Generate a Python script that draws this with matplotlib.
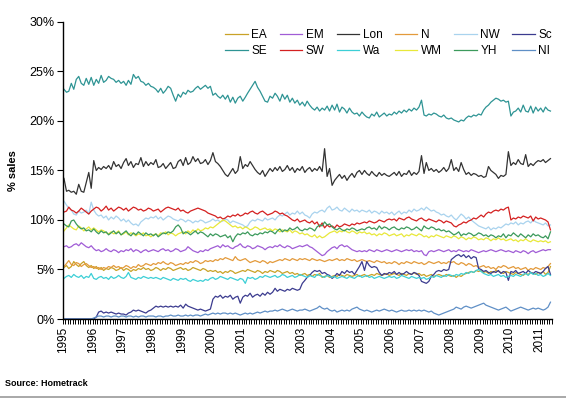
import numpy as np
import pandas as pd
import matplotlib
matplotlib.use("Agg")
import matplotlib.pyplot as plt
import matplotlib.dates as mdates
from matplotlib.ticker import FuncFormatter

plt.rcParams['font.family'] = ['Liberation Sans', 'DejaVu Sans']

# monthly share of sales (%), Jan 1995 - May 2011
SE = [23.2, 22.9, 23.0, 23.8, 23.2, 24.2, 24.5, 23.8, 23.6, 24.3, 23.7, 24.4,
      23.6, 24.2, 23.8, 24.6, 23.9, 24.1, 24.5, 24.3, 24.2, 23.9, 24.1, 23.8,
      24.0, 23.6, 24.1, 23.7, 24.7, 24.3, 24.5, 24.0, 23.9, 23.6, 23.8, 23.5,
      23.4, 23.2, 22.9, 23.3, 22.8, 23.1, 23.5, 23.3, 22.6, 22.0, 22.7, 22.4,
      22.9, 22.7, 23.1, 22.9, 23.0, 23.3, 23.5, 23.2, 23.4, 23.6, 23.3, 23.5,
      22.6, 22.8, 22.5, 22.3, 22.6, 22.2, 22.6, 21.9, 22.4, 21.8, 22.3, 22.5,
      22.0, 22.4, 22.8, 23.2, 23.6, 24.0, 23.4, 23.0, 22.5, 22.0, 21.9, 22.5,
      22.3, 22.8, 22.5, 22.0, 22.7, 22.2, 22.6, 21.9, 22.3, 21.8, 22.1, 21.6,
      21.9, 21.5, 22.0, 21.6, 21.3, 21.1, 21.4, 21.0, 21.3, 21.1, 21.5, 21.0,
      21.6, 21.1, 21.7, 20.9, 21.4, 21.2, 20.8, 21.3, 20.9, 20.7, 20.8, 20.5,
      20.9, 20.6, 20.4, 20.3, 20.7, 20.5, 20.9, 20.4, 20.6, 20.8, 20.5, 20.7,
      20.6, 20.9, 20.7, 21.0, 20.8, 21.1, 20.9, 21.2, 21.0, 21.3, 21.1, 21.4,
      22.1, 20.6, 20.5, 20.7, 20.6, 20.8, 20.7, 20.5, 20.4, 20.6, 20.3, 20.2,
      20.3, 20.1, 20.0, 19.9, 20.1, 20.0, 20.3, 20.5, 20.4, 20.6, 20.5, 20.7,
      20.6, 21.1, 21.4, 21.6, 21.9, 22.1, 22.3, 22.2, 22.0, 22.1, 21.9, 22.0,
      20.5, 20.9, 21.0, 21.3, 20.9, 21.6, 21.0, 20.9, 21.5, 20.8, 21.4, 21.0,
      21.3, 20.9, 21.4, 21.1, 21.0]

Lon = [14.2, 12.9, 13.0, 12.8, 12.9, 12.6, 13.6, 12.9, 12.8, 13.8, 14.8, 13.2,
       16.0, 15.0, 15.3, 15.1, 15.4, 15.2, 15.5, 15.1, 15.9, 15.4, 15.6, 15.2,
       15.8, 16.2, 15.5, 15.9, 15.3, 15.7, 15.6, 16.3, 15.4, 15.9, 15.5, 15.8,
       15.6, 16.1, 15.3, 15.4, 15.7, 15.2, 15.5, 15.8, 15.2, 15.3, 15.9, 16.1,
       15.5, 16.3, 15.6, 15.8, 16.4, 15.9, 16.2, 15.7, 15.8, 16.1, 15.6, 16.0,
       16.8, 15.9, 15.7, 15.4, 15.0, 14.6, 14.4, 14.8, 15.2, 14.7, 15.0, 16.4,
       15.2, 15.6, 15.4, 15.9, 15.5, 15.1, 14.8, 14.6, 15.0, 14.4, 14.8, 15.2,
       14.9, 15.3, 15.0, 15.4, 14.9, 15.1, 15.5, 15.0, 15.3, 14.8, 15.2, 15.0,
       15.4, 14.8, 15.1, 15.3, 14.9, 15.2, 15.0, 15.4, 14.9, 17.2, 14.4, 15.2,
       13.5, 14.0, 14.3, 14.6, 14.2, 14.5, 14.0, 14.4, 14.7, 14.3, 14.8, 15.0,
       14.6, 15.0, 14.7, 14.5, 14.9, 14.6, 14.4, 14.8, 14.5, 14.7, 14.5, 14.4,
       14.6, 14.8, 14.5, 14.9, 14.4, 14.7, 14.6, 15.0, 14.5, 14.8, 14.6, 14.9,
       16.5, 14.7, 15.8, 15.0, 15.2, 14.9, 15.1, 14.8, 15.0, 15.3, 14.9, 15.2,
       16.1, 15.0, 15.3, 14.9, 15.8, 15.1, 14.6, 14.8, 14.5, 14.7, 14.6, 14.4,
       14.5, 14.3, 14.4, 15.4, 15.0, 14.8, 14.6, 14.2, 14.5, 14.4, 14.6, 16.9,
       15.5, 15.8, 15.6, 16.1, 15.7, 15.6, 16.6, 15.4, 15.7, 15.5, 15.8, 16.0,
       15.9, 16.1, 15.8, 16.0, 16.2]

SW = [10.8, 10.9, 11.3, 11.0, 10.9, 10.7, 10.9, 11.2, 11.0, 10.8, 10.6, 10.9,
      11.1, 11.3, 11.2, 10.9, 11.1, 11.4, 11.0, 11.2, 10.9, 11.1, 11.3, 11.2,
      11.0, 11.2, 10.9, 11.1, 11.3, 11.2, 11.0, 11.1, 10.9, 11.0, 11.2, 11.1,
      10.9, 11.0, 11.1, 10.8, 11.0, 11.2, 11.3, 11.2, 11.1, 11.0, 11.2, 10.9,
      11.0, 10.8, 10.7, 10.9, 11.0, 11.1, 11.2, 11.1, 11.0, 10.9, 10.7, 10.6,
      10.5, 10.4, 10.2, 10.3, 10.1, 10.2, 10.4, 10.3, 10.5, 10.4, 10.6, 10.4,
      10.5, 10.7, 10.6, 10.8, 10.9, 10.7, 10.6, 10.8, 10.9, 10.7, 10.5, 10.6,
      10.7, 10.9, 10.8, 10.6, 10.7, 10.5, 10.4, 10.2, 10.0, 9.9, 10.1, 9.8,
      9.9, 10.0, 9.8, 9.7, 9.9, 9.6, 9.8, 9.3, 9.7, 9.2, 9.5, 9.3,
      9.4, 9.2, 9.5, 9.3, 9.4, 9.6, 9.5, 9.4, 9.6, 9.5, 9.7, 9.6,
      9.7, 9.8, 9.7, 9.9, 9.8, 9.7, 9.8, 10.0, 9.9, 9.8, 10.0, 10.1,
      10.0, 10.1, 9.9, 10.2, 10.1, 10.0, 10.2, 10.3, 10.1, 10.0, 9.9, 10.1,
      10.2, 10.0, 9.9, 10.1, 10.0, 9.9, 9.8, 10.0, 9.9, 9.7, 9.9, 9.8,
      9.7, 9.4, 9.3, 9.5, 9.6, 9.8, 9.7, 9.9, 10.0, 10.2, 10.1, 10.3,
      10.5, 10.3, 10.6, 10.8, 10.7, 10.9, 11.0, 10.9, 11.1, 11.0, 11.2, 11.3,
      10.0, 10.2, 10.1, 10.3, 10.2, 10.4, 10.3, 10.2, 10.4, 9.9, 10.3, 10.1,
      10.2, 10.1, 10.0, 9.8, 9.0]

NW = [11.9, 11.5, 11.2, 11.0, 10.6, 10.5, 10.9, 10.7, 10.8, 11.0, 10.6, 11.8,
      11.0, 10.6, 10.4, 10.5, 10.2, 10.4, 10.0, 10.3, 10.1, 10.4, 10.2, 9.9,
      10.1, 9.8, 10.0, 9.7, 9.5, 9.6, 9.4, 9.8, 10.0, 10.2, 10.1, 10.3,
      10.2, 10.4, 10.1, 10.3, 10.0, 10.2, 10.4, 10.3, 10.1, 10.0, 9.9, 10.1,
      10.0, 9.8, 10.0, 9.9, 9.7, 9.9, 9.8, 10.0, 9.9, 9.7, 9.8, 9.9,
      10.1, 9.9, 10.0, 9.8, 9.9, 10.1, 10.0, 9.7, 9.9, 9.8, 9.7, 9.6,
      9.5, 9.3, 9.4, 9.8, 10.0, 9.9, 10.1, 10.0, 9.9, 10.2, 10.0, 10.1,
      10.2, 10.0, 10.3, 10.5, 10.4, 10.6, 10.8, 10.5, 10.7, 10.6, 10.9, 10.6,
      10.8, 10.5, 10.4, 10.2, 10.6, 10.8, 10.7, 10.9, 11.0, 10.8, 11.2, 11.4,
      11.0, 11.1, 11.3, 11.0, 10.9, 11.2, 11.0, 10.8, 11.1, 10.9, 11.0, 10.8,
      11.0, 10.9, 10.8, 11.0, 10.7, 10.9, 10.8, 10.6, 10.9, 10.7, 10.8, 10.6,
      10.8, 10.5, 10.7, 10.9, 10.6, 10.8, 10.7, 11.0, 10.8, 11.1, 10.9, 11.0,
      11.2, 11.0, 11.3, 11.1, 10.9, 11.0, 10.8, 10.7, 10.5, 10.6, 10.4, 10.3,
      10.5, 10.2, 10.0, 10.3, 10.6, 10.4, 10.1, 10.3, 10.0, 9.8, 9.6, 9.4,
      9.3, 9.2, 9.1, 9.3, 9.0, 9.2, 9.1, 9.3, 9.2, 9.4, 9.6, 9.5,
      9.7, 9.6, 9.8, 9.5, 9.7, 9.6, 9.8, 9.9, 9.7, 10.0, 9.8, 9.7,
      9.6, 9.5, 9.7, 9.4, 9.5]

WM = [8.9, 9.2, 9.5, 9.3, 9.1, 9.0, 9.4, 9.2, 8.9, 9.1, 9.3, 9.0,
      9.2, 9.0, 8.8, 9.0, 8.9, 8.7, 8.6, 8.8, 8.6, 8.7, 8.9, 8.5,
      8.6, 8.8, 8.5, 8.7, 8.6, 8.4, 8.6, 8.5, 8.7, 8.4, 8.5, 8.3,
      8.5, 8.6, 8.4, 8.7, 8.6, 8.8, 8.5, 8.7, 8.6, 8.4, 8.6, 8.7,
      8.8, 8.6, 8.9, 8.7, 9.0, 8.8, 9.1, 8.9, 9.0, 9.2, 9.1, 9.3,
      9.2, 9.4, 9.6, 9.8, 10.0, 9.9, 9.7, 9.5, 9.3, 9.4, 9.2, 9.3,
      9.1, 9.3, 9.2, 9.0, 9.1, 9.3, 9.2, 9.0, 9.1, 9.2, 9.0, 9.1,
      8.9, 9.1, 9.0, 8.8, 9.0, 8.9, 8.8, 9.0, 8.7, 8.9, 8.8, 8.6,
      8.7, 8.5, 8.6, 8.4, 8.3, 8.5, 8.2, 8.4, 8.2, 8.3, 8.5, 8.7,
      8.8, 8.9, 8.7, 8.9, 8.8, 9.0, 8.8, 8.7, 8.9, 8.8, 8.6, 8.8,
      8.7, 8.8, 8.6, 8.7, 8.5, 8.6, 8.4, 8.6, 8.5, 8.7, 8.6, 8.4,
      8.5, 8.6, 8.4, 8.5, 8.6, 8.3, 8.5, 8.4, 8.6, 8.5, 8.4, 8.6,
      8.5, 8.3, 8.4, 8.2, 8.4, 8.3, 8.5, 8.4, 8.3, 8.2, 8.4, 8.3,
      8.2, 8.4, 8.3, 8.1, 8.3, 8.2, 8.0, 8.2, 8.1, 8.3, 8.2, 8.0,
      8.1, 8.0, 8.2, 8.1, 7.9, 8.1, 8.0, 8.2, 8.0, 8.1, 7.9, 8.0,
      8.1, 7.9, 8.0, 7.8, 8.0, 7.9, 8.1, 7.9, 7.8, 8.0, 7.9, 7.8,
      7.9, 7.8, 7.9, 7.7, 7.8]

YH = [9.6, 9.4, 9.3, 9.9, 10.0, 9.6, 9.3, 9.1, 9.2, 8.9, 9.0, 8.8,
      9.1, 8.8, 8.6, 8.9, 8.7, 8.8, 8.5, 8.7, 8.9, 8.6, 8.8, 8.5,
      8.7, 8.9, 8.6, 8.4, 8.7, 8.5, 8.8, 8.6, 8.4, 8.7, 8.5, 8.6,
      8.4, 8.6, 8.3, 8.5, 8.7, 8.6, 8.8, 8.7, 8.9, 9.3, 9.5, 9.2,
      8.6, 8.8, 8.7, 8.5, 8.7, 8.9, 8.6, 8.8, 8.7, 8.5, 8.3, 8.6,
      8.4, 8.6, 8.5, 8.3, 8.4, 8.5, 8.2, 8.4, 7.8, 8.3, 8.6, 8.5,
      8.7, 8.6, 8.8, 8.5, 8.4, 8.6, 8.5, 8.7, 8.6, 8.8, 8.7, 8.9,
      8.8, 8.6, 8.9, 9.1, 8.8, 9.0, 8.9, 9.2, 9.0, 9.1, 9.3, 9.0,
      8.9, 9.1, 9.0, 9.2, 9.1, 8.9, 9.3, 9.5, 9.4, 9.8, 9.5, 9.6,
      9.3, 9.1, 9.0, 9.2, 9.0, 8.9, 9.1, 9.0, 9.2, 9.1, 8.9, 9.0,
      9.1, 9.0, 9.2, 9.3, 9.1, 9.2, 9.0, 9.4, 9.1, 9.3, 9.2, 9.0,
      9.2, 9.3, 9.1, 9.0, 9.2, 9.1, 9.3, 9.2, 9.0, 9.1, 9.3, 9.1,
      8.9, 9.4, 9.2, 9.1, 9.3, 9.2, 9.0, 9.1, 8.9, 9.0, 8.8, 8.9,
      8.7, 8.5, 8.6, 8.8, 8.4, 8.6, 8.5, 8.7, 8.6, 8.4, 8.5, 8.7,
      8.6, 8.4, 8.5, 8.3, 8.5, 8.4, 8.2, 8.4, 8.3, 8.6, 8.2, 8.5,
      8.4, 8.7, 8.5, 8.3, 8.6, 8.4, 8.2, 8.5, 8.3, 8.6, 8.4, 8.5,
      8.3, 8.2, 8.4, 8.1, 8.8]

EM = [7.3, 7.4, 7.2, 7.3, 7.5, 7.6, 7.4, 7.7, 7.5, 7.3, 7.2, 7.4,
      7.1, 6.9, 7.0, 6.8, 6.9, 7.1, 6.9, 6.8, 7.0, 6.9, 6.7, 6.9,
      6.8, 7.0, 6.9, 7.1, 6.8, 7.0, 6.9, 6.7, 6.9, 7.0, 6.8, 6.9,
      7.0, 6.9, 6.8, 7.0, 7.1, 6.9, 7.0, 6.8, 6.9, 7.1, 7.0, 6.8,
      6.9, 7.0, 7.3, 7.1, 6.9, 6.8, 6.7, 6.9, 6.8, 7.0, 6.9, 7.1,
      7.2, 7.3, 7.4, 7.2, 7.5, 7.3, 7.4, 7.2, 7.1, 7.3, 7.4, 7.6,
      7.3, 7.2, 7.4, 7.3, 7.1, 7.2, 7.4, 7.3, 7.2, 7.0, 7.2, 7.3,
      7.2, 7.4, 7.3, 7.5, 7.3, 7.2, 7.4, 7.3, 7.1, 7.2, 7.3, 7.4,
      7.3, 7.4, 7.5, 7.3, 7.2, 7.0, 6.8, 6.6, 6.4, 6.5, 6.8, 7.0,
      7.2, 7.3, 7.1, 7.4, 7.5, 7.3, 7.4, 7.2, 7.0, 6.9, 6.8, 6.9,
      6.8, 6.9, 6.8, 7.0, 6.9, 6.8, 7.0, 6.9, 6.8, 6.9, 7.0, 6.9,
      6.8, 6.9, 7.0, 6.9, 6.8, 6.9, 7.0, 6.9, 7.0, 6.8, 6.9, 6.8,
      6.9, 6.5, 6.4, 6.8, 6.9, 6.8, 6.9, 7.0, 6.9, 6.8, 6.9, 7.0,
      6.8, 6.9, 6.8, 7.0, 6.9, 6.8, 6.9, 6.8, 7.0, 6.9, 6.8, 6.7,
      6.8, 6.9, 6.8, 6.9, 7.0, 6.9, 6.8, 6.9, 7.0, 6.9, 6.8, 6.9,
      6.8, 6.7, 6.9, 6.8, 6.7, 6.9, 6.8, 6.6, 6.8, 6.9, 6.7, 6.8,
      6.9, 7.0, 6.9, 7.0, 7.0]

N = [5.3, 5.6, 5.9, 5.5, 5.4, 5.7, 5.6, 5.3, 5.5, 5.6, 5.4, 5.2,
     5.3, 5.1, 5.2, 5.0, 5.2, 5.1, 5.3, 5.2, 5.4, 5.2, 5.3, 5.1,
     5.2, 5.4, 5.3, 5.1, 5.3, 5.2, 5.5, 5.3, 5.4, 5.6, 5.5, 5.4,
     5.6, 5.5, 5.7, 5.6, 5.8, 5.6, 5.5, 5.7, 5.6, 5.4, 5.5, 5.6,
     5.5, 5.7, 5.6, 5.8, 5.7, 5.9, 5.8, 5.6, 5.7, 5.9, 5.8, 5.9,
     5.8, 6.0, 5.9, 6.1, 6.0, 6.2, 6.1, 6.0, 5.9, 6.3, 6.0, 5.9,
     6.0, 6.1, 5.9, 5.7, 5.8, 5.9, 5.8, 5.7, 5.9, 5.8, 5.6, 5.8,
     5.7, 5.8, 5.9, 6.0, 5.9, 6.1, 6.0, 5.9, 6.1, 6.0, 5.9, 6.1,
     6.0, 6.1, 6.0, 5.9, 6.1, 6.0, 5.9, 6.0, 5.9, 5.8, 5.9, 6.0,
     5.9, 6.0, 6.1, 5.9, 6.0, 5.9, 6.1, 6.0, 5.9, 6.0, 5.8, 5.9,
     6.0, 5.9, 5.8, 5.9, 5.8, 5.7, 5.9, 5.8, 5.7, 5.8, 5.6, 5.7,
     5.6, 5.8, 5.7, 5.5, 5.7, 5.6, 5.8, 5.7, 5.6, 5.8, 5.7, 5.6,
     5.7, 5.5, 5.6, 5.8, 5.7, 5.6, 5.7, 5.8, 5.6, 5.7, 5.6, 5.8,
     5.7, 5.8, 5.6, 5.5, 5.7, 5.6, 5.4, 5.6, 5.5, 5.3, 5.4, 5.2,
     5.3, 5.4, 5.2, 5.3, 5.1, 5.2, 5.0, 5.3, 5.2, 5.4, 5.3, 5.1,
     5.2, 5.3, 5.1, 5.2, 5.0, 5.1, 5.2, 4.9, 5.1, 5.0, 5.2, 5.1,
     5.0, 5.2, 5.1, 5.3, 5.6]

EA = [5.2, 5.4, 5.1, 5.3, 5.8, 5.5, 5.3, 5.6, 5.8, 5.4, 5.2, 5.4,
      5.1, 5.3, 5.0, 5.2, 4.9, 5.1, 5.0, 5.2, 5.1, 4.9, 5.0, 5.2,
      4.9, 5.1, 5.0, 4.8, 5.0, 4.9, 5.1, 5.0, 5.2, 5.0, 5.1, 4.9,
      5.0, 5.2, 5.1, 4.9, 5.1, 5.0, 5.2, 5.1, 4.9, 5.0, 5.1, 5.2,
      5.0, 5.1, 4.9, 5.0, 5.2, 5.1, 5.0, 4.9, 5.1, 5.0, 4.8, 4.9,
      4.8, 4.9, 4.7, 4.8, 4.6, 4.8, 4.7, 4.9, 4.8, 4.6, 4.7, 4.8,
      4.9, 4.8, 5.0, 4.9, 4.8, 4.7, 4.9, 4.8, 4.6, 4.8, 4.7, 4.9,
      4.8, 4.7, 4.9, 4.8, 4.6, 4.7, 4.8, 4.6, 4.7, 4.5, 4.6, 4.4,
      4.5, 4.6, 4.4, 4.5, 4.3, 4.5, 4.4, 4.6, 4.2, 4.3, 4.4, 4.2,
      4.3, 4.4, 4.3, 4.5, 4.4, 4.3, 4.5, 4.4, 4.3, 4.4, 4.5, 4.3,
      4.4, 4.5, 4.3, 4.4, 4.5, 4.4, 4.6, 4.5, 4.4, 4.5, 4.6, 4.4,
      4.5, 4.6, 4.5, 4.4, 4.6, 4.5, 4.4, 4.6, 4.5, 4.7, 4.5, 4.6,
      4.4, 4.5, 4.3, 4.4, 4.5, 4.3, 4.4, 4.5, 4.4, 4.3, 4.5, 4.4,
      4.3, 4.4, 4.2, 4.4, 4.3, 4.5, 4.6, 4.7, 4.8, 4.7, 4.9, 4.8,
      4.9, 4.7, 4.8, 4.6, 4.8, 4.7, 4.9, 4.8, 4.7, 4.6, 4.8, 4.7,
      4.6, 4.5, 4.7, 4.6, 4.5, 4.4, 4.6, 4.5, 4.7, 4.6, 4.5, 4.7,
      4.6, 4.8, 4.5, 4.7, 5.3]

Wa = [4.1, 4.3, 4.4, 4.2, 4.5, 4.3, 4.2, 4.4, 4.1, 4.3, 4.2, 4.6,
      4.1, 4.0, 4.2, 4.3, 4.1, 4.2, 4.0, 4.3, 4.1, 4.2, 4.4, 4.2,
      4.1, 4.3, 4.7, 4.2, 4.1, 4.0, 4.2, 4.1, 4.3, 4.2, 4.1, 4.2,
      4.1, 4.2, 4.1, 4.0, 4.2, 4.1, 4.0, 3.9, 4.1, 4.0, 3.9, 4.1,
      4.0, 4.1, 3.9, 3.8, 4.0, 3.9, 3.8, 3.9, 3.8, 4.0, 3.9, 4.1,
      4.2, 4.0, 4.1, 4.3, 4.2, 4.1, 4.0, 4.2, 4.1, 4.0, 3.9, 4.1,
      4.0, 3.6, 4.2, 4.1, 4.2, 4.0, 4.1, 4.3, 4.2, 4.4, 4.3, 4.2,
      4.3, 4.4, 4.2, 4.3, 4.5, 4.4, 4.2, 4.3, 4.4, 4.2, 4.3, 4.5,
      4.4, 4.3, 4.2, 4.4, 4.3, 4.2, 4.5, 4.4, 4.3, 4.2, 4.4, 4.3,
      4.2, 4.3, 4.1, 4.2, 4.3, 4.2, 4.1, 4.3, 4.2, 4.1, 4.3, 4.4,
      4.2, 4.3, 4.4, 4.2, 4.3, 4.1, 4.2, 4.3, 4.2, 4.1, 4.2, 4.3,
      4.2, 4.3, 4.1, 4.2, 4.4, 4.3, 4.2, 4.1, 4.3, 4.2, 4.1, 4.2,
      4.1, 4.2, 4.0, 4.1, 4.3, 4.2, 4.4, 4.3, 4.2, 4.4, 4.3, 4.5,
      4.4, 4.3, 4.5, 4.4, 4.6, 4.5, 4.7, 4.6, 4.8, 4.7, 4.9, 5.0,
      4.8, 4.6, 4.5, 4.4, 4.5, 4.3, 4.4, 4.5, 4.3, 4.4, 4.2, 4.3,
      4.4, 4.3, 4.5, 4.4, 4.3, 4.5, 4.6, 4.4, 4.7, 4.5, 4.6, 4.4,
      4.5, 4.3, 4.4, 4.6, 4.4]

Sc = [0.0, 0.0, 0.0, 0.0, 0.0, 0.0, 0.0, 0.0, 0.0, 0.0, 0.0, 0.0,
      0.0, 0.2, 0.7, 0.8, 0.6, 0.7, 0.6, 0.7, 0.6, 0.5, 0.6, 0.5,
      0.5, 0.4, 0.6, 0.7, 0.9, 0.8, 0.9, 0.8, 0.7, 0.6, 0.8, 0.9,
      1.1, 1.3, 1.2, 1.3, 1.2, 1.3, 1.2, 1.3, 1.2, 1.3, 1.2, 1.4,
      1.1, 1.5, 1.3, 1.2, 1.1, 1.0, 0.9, 1.0, 0.9, 0.8, 0.9, 1.0,
      2.0, 2.3, 2.2, 2.4, 2.1, 2.3, 2.2, 2.4, 2.0, 2.2, 2.3, 1.6,
      2.2, 2.4, 2.3, 2.6, 2.2, 2.4, 2.5, 2.3, 2.6, 2.4, 2.7, 2.5,
      2.7, 3.1, 2.8, 3.0, 2.9, 2.8, 3.0, 2.9, 3.1, 3.0, 2.9, 3.0,
      3.6, 3.9, 4.2, 4.4, 4.7, 4.9, 4.8, 4.9, 4.6, 4.7, 4.5, 4.4,
      4.1, 4.3, 4.6, 4.4, 4.8, 4.6, 4.9, 4.7, 4.8, 4.5, 4.9, 5.3,
      5.8, 4.9, 5.8, 5.4, 5.2, 5.3, 5.2, 4.7, 4.4, 4.6, 4.5, 4.7,
      4.6, 4.8, 4.5, 4.7, 4.5, 4.6, 4.8, 4.6, 4.5, 4.7, 4.6, 4.4,
      3.8, 3.7, 3.6, 3.8, 4.3, 4.5, 4.8, 4.9, 4.8, 5.0, 4.9, 5.0,
      6.0, 6.2, 6.4, 6.5, 6.3, 6.5, 6.2, 6.4, 6.1, 6.3, 6.2, 5.1,
      5.0, 4.8, 4.9, 4.7, 4.6, 4.8, 4.7, 4.9, 4.6, 4.8, 4.7, 3.9,
      4.8, 4.7, 4.9, 4.6, 4.7, 4.8, 4.6, 4.9, 4.7, 4.6, 4.8, 4.7,
      4.6, 4.8, 5.1, 5.3, 4.5]

NI = [0.0, 0.0, 0.0, 0.0, 0.0, 0.0, 0.0, 0.0, 0.0, 0.0, 0.0, 0.0,
      0.1, 0.2, 0.3, 0.3, 0.2, 0.3, 0.3, 0.2, 0.3, 0.3, 0.2, 0.3,
      0.3, 0.2, 0.3, 0.3, 0.2, 0.3, 0.2, 0.3, 0.3, 0.2, 0.3, 0.3,
      0.3, 0.2, 0.3, 0.3, 0.2, 0.3, 0.3, 0.4, 0.3, 0.3, 0.4, 0.3,
      0.3, 0.4, 0.3, 0.4, 0.3, 0.4, 0.4, 0.3, 0.4, 0.5, 0.4, 0.5,
      0.6, 0.5, 0.6, 0.5, 0.6, 0.6, 0.5, 0.6, 0.5, 0.6, 0.5, 0.4,
      0.5, 0.6, 0.5, 0.6, 0.5, 0.6, 0.7, 0.6, 0.7, 0.8, 0.7, 0.8,
      0.8, 0.9, 0.8, 0.9, 1.0, 0.9, 0.8, 0.9, 1.0, 0.9, 0.8, 0.9,
      0.9, 1.0, 0.9, 0.8, 0.9, 1.0, 1.1, 1.3, 1.1, 1.0, 1.1, 0.9,
      0.8, 0.9, 0.7, 0.8, 0.9, 0.8, 0.9, 0.8, 1.0, 1.1, 1.2, 1.0,
      0.9, 0.8, 0.9, 0.8, 0.7, 0.8, 0.9, 0.8, 0.9, 1.0, 0.9, 0.8,
      0.9, 0.8, 0.7, 0.8, 0.9, 0.8, 0.8, 0.9, 0.8, 0.9, 0.8, 0.9,
      0.8, 0.9, 0.8, 0.7, 0.8, 0.6, 0.5, 0.4, 0.5, 0.6, 0.7, 0.8,
      0.9, 1.0, 1.2, 1.1, 1.0, 1.2, 1.3, 1.2, 1.1, 1.2, 1.3, 1.4,
      1.5, 1.6, 1.4, 1.3, 1.2, 1.1, 1.0, 0.9, 1.0, 1.1, 1.2, 1.0,
      0.8, 0.9, 1.0, 1.1, 1.2, 1.1, 1.0, 0.9, 1.0, 1.1, 1.0, 1.1,
      1.0, 0.9, 1.0, 1.2, 1.7]

names = ['EA', 'EM', 'Lon', 'N', 'NW', 'Sc', 'SE', 'SW', 'Wa', 'WM', 'YH', 'NI']
series = [EA, EM, Lon, N, NW, Sc, SE, SW, Wa, WM, YH, NI]
colors = ['#C9A227', '#A05CD6', '#333333', '#E39A3B', '#A9D3EE', '#3B3B8F',
          '#2E9494', '#D42020', '#3CCFD6', '#E8E83A', '#3C9A5C', '#5F8FC6']

months = pd.date_range('1995-01-01', periods=len(SE), freq='MS') + pd.Timedelta(days=14)

fig = plt.figure(figsize=(5.66, 3.99), dpi=100)
ax = fig.add_axes([0.111, 0.2005, 0.864, 0.7445])

lines = {}
for name, vals, col in zip(names, series, colors):
    lines[name], = ax.plot(months, np.array(vals) / 100, color=col, lw=0.9, label=name)

ax.set_ylim(0, 0.30)
ax.set_yticks(np.arange(0, 0.301, 0.05))
ax.yaxis.set_major_formatter(FuncFormatter(lambda v, p: f"{v*100:.0f}%"))
ax.set_xlim(pd.Timestamp('1995-01-01'), pd.Timestamp('2011-06-01'))
ax.xaxis.set_major_locator(mdates.YearLocator())
ax.xaxis.set_major_formatter(mdates.DateFormatter('%Y'))
ax.xaxis.set_minor_locator(mdates.MonthLocator())
ax.tick_params(axis='x', which='both', length=3.5, width=0.7, direction='out',
               labelrotation=90, labelsize=8.5, pad=2)
ax.tick_params(axis='y', length=4, width=0.8, labelsize=9, pad=2)
for s in ['top', 'right']:
    ax.spines[s].set_visible(False)
for s in ['left', 'bottom']:
    ax.spines[s].set_linewidth(1.0)

ax.set_ylabel('% sales', fontsize=8, fontweight='bold', labelpad=8)

# legend laid out row by row like the original
order = ['EA', 'SE', 'EM', 'SW', 'Lon', 'Wa', 'N', 'WM', 'NW', 'YH', 'Sc', 'NI']
ax.legend([lines[k] for k in order], order, ncol=6, loc='upper left',
          bbox_to_anchor=(0.318, 1.0), frameon=False, fontsize=8.5,
          handlelength=1.9, handletextpad=0.3, columnspacing=1.05,
          labelspacing=0.35, borderaxespad=0.2)

fig.text(0.009, 0.032, 'Source: Hometrack', fontsize=6.5, fontweight='bold')
fig.add_artist(plt.Line2D([0, 1], [0.005, 0.005], color='#999999', lw=1.2,
                          transform=fig.transFigure))

fig.savefig('out.png', dpi=100)
